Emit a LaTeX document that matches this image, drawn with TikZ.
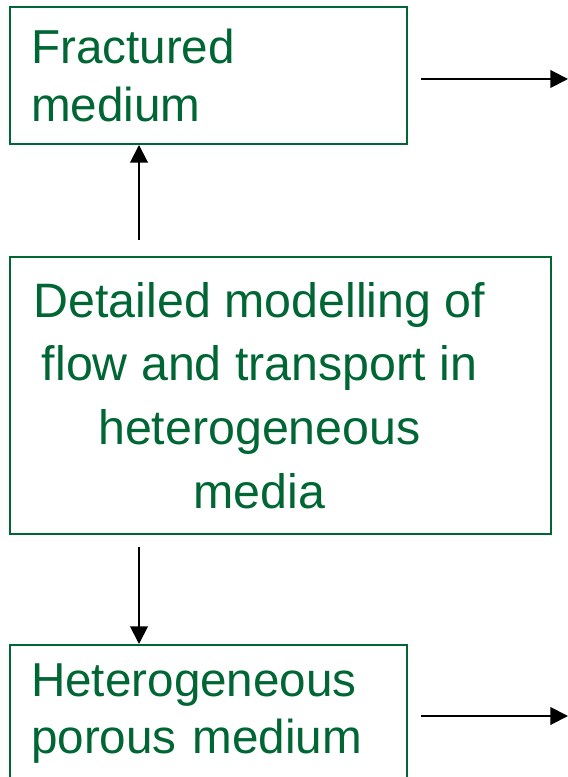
\documentclass[tikz,border=0pt]{standalone}
\usepackage{fontspec}
\setmainfont{Liberation Sans}
\usepackage{xcolor}
\usetikzlibrary{arrows.meta}
\definecolor{boxgreen}{RGB}{0,102,51}

\tikzset{
	box/.style = {draw = boxgreen, line width = 1.1pt, text = boxgreen, anchor = north west},
	smallbox/.style = {box, align = left, inner xsep = 12pt, text width = 201pt, minimum height = 77.7pt,
		font = \fontsize{27}{32.8}\selectfont},
	bigbox/.style = {box, minimum width = 306.7pt, minimum height = 157pt},
	bigtext/.style = {text = boxgreen, align = center, font = \fontsize{27.4}{36.1}\selectfont},
	link/.style = {line width = 1.1pt, -{Triangle[length = 10pt, width = 10pt]}}
}

\begin{document}
\begin{tikzpicture}[x = 0.567pt, y = -0.567pt]
	\useasboundingbox (0,0) rectangle (568,777);
	\clip (0,0) rectangle (568,777);
	
	\node[smallbox] (fract) at (9,6) {Fractured\\medium};
	\node[bigbox] (detail) at (9,256) {};
	\node[bigtext] (detailtext) at ([xshift = -21*0.567pt]detail.center) {Detailed modelling of\\flow and transport in\\heterogeneous\\media};
	\node[smallbox] (porous) at (9,644) {Heterogeneous\\porous medium};
	
	\coordinate (upfrom) at (139,240);
	\coordinate (downfrom) at (139,547);
	\coordinate (fractout) at (421,79);
	\coordinate (fractend) at (568,79);
	\coordinate (porousout) at (421,716);
	\coordinate (porousend) at (568,716);
	
	\draw[link] (upfrom) -- (upfrom |- fract.south);
	\draw[link] (downfrom) -- (downfrom |- porous.north);
	\draw[link] (fractout) -- (fractend);
	\draw[link] (porousout) -- (porousend);
\end{tikzpicture}
\end{document}
